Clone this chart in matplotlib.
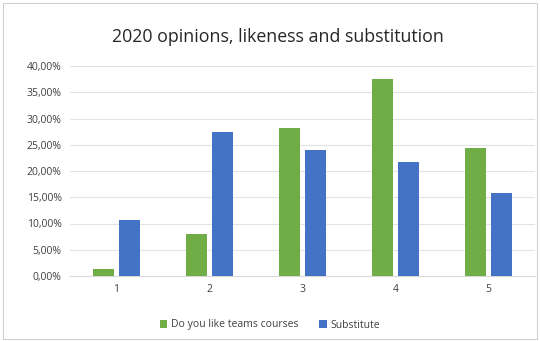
import numpy as np
import matplotlib.pyplot as plt
from matplotlib.ticker import FuncFormatter

categories = ['1', '2', '3', '4', '5']
like_teams = [1.3, 8.0, 28.2, 37.5, 24.4]
substitute = [10.7, 27.4, 24.0, 21.7, 15.8]

green = '#70ad47'
blue = '#4472c4'

plt.rcParams['font.family'] = ['Open Sans', 'DejaVu Sans']

fig = plt.figure(figsize=(5.4, 3.41), dpi=100)
ax = fig.add_axes([70 / 540, 1 - 276 / 341, 465 / 540, (276 - 66) / 341])

x = np.arange(len(categories))
w = 0.225
gap = 0.05
ax.bar(x - (w + gap) / 2, like_teams, w, color=green, label='Do you like teams courses', zorder=3)
ax.bar(x + (w + gap) / 2, substitute, w, color=blue, label='Substitute', zorder=3)

ax.set_xlim(-0.5, len(categories) - 0.5)
ax.set_ylim(0, 40)
ax.set_yticks(np.arange(0, 41, 5))
ax.yaxis.set_major_formatter(FuncFormatter(lambda v, p: f'{v:.2f}%'.replace('.', ',')))
ax.set_xticks(x)
ax.set_xticklabels(categories)
ax.grid(axis='y', color='#e3e3e3', linewidth=0.8, zorder=0)
for s in ['top', 'right', 'left']:
    ax.spines[s].set_visible(False)
ax.spines['bottom'].set_color('#d9d9d9')
ax.tick_params(axis='both', length=0, labelsize=7.5, colors='#404040', pad=6)

fig.text(278 / 540, 1 - 37 / 341, '2020 opinions, likeness and substitution', ha='center', va='center',
         fontsize=12.8, color='#262626')

fig.legend(loc='center', bbox_to_anchor=(0.5, 1 - 325 / 341), ncol=2, frameon=False,
           fontsize=7.5, handlelength=0.7, handleheight=0.7, columnspacing=2.0,
           handletextpad=0.4, labelcolor='#404040')

fig.patches.append(plt.Rectangle((3 / 540, 2 / 341), 534 / 540, 336 / 341, transform=fig.transFigure,
                                 fill=False, edgecolor='#d0d0d0', linewidth=0.8))

fig.savefig('out.png', dpi=100)
